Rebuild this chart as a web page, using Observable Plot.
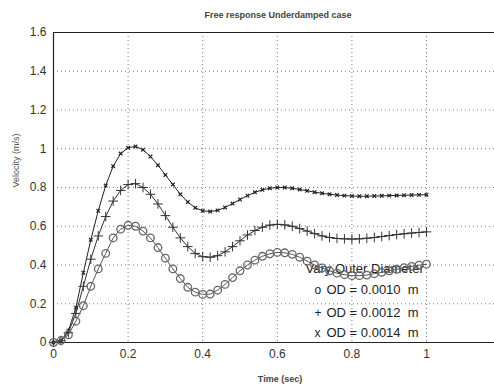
<!DOCTYPE html>
<html>
<head>
<meta charset="utf-8">
<script src="https://cdn.jsdelivr.net/npm/d3@7"></script>
<script src="https://cdn.jsdelivr.net/npm/@observablehq/plot@0.6"></script>
<style>
  body { margin: 0; background: #fff; }
  #wrap { position: relative; width: 494px; height: 387px; overflow: hidden; font-family: "Liberation Sans", Arial, sans-serif; }
  #title { position: absolute; top: 10px; left: 0; width: 556px; text-align: center; font-size: 9px; font-weight: bold; color: #444; }
</style>
</head>
<body>
<div id="wrap"><div id="title">Free response Underdamped case</div></div>
<script>
const time = [0, 0.02, 0.04, 0.06, 0.08, 0.10, 0.12, 0.14, 0.16, 0.18, 0.20, 0.22, 0.24, 0.26, 0.28, 0.30, 0.32, 0.34, 0.36, 0.38, 0.40, 0.42, 0.44, 0.46, 0.48, 0.50, 0.52, 0.54, 0.56, 0.58, 0.60, 0.62, 0.64, 0.66, 0.68, 0.70, 0.72, 0.74, 0.76, 0.78, 0.80, 0.82, 0.84, 0.86, 0.88, 0.90, 0.92, 0.94, 0.96, 0.98, 1.00];
const od10 = [0, 0.01, 0.04, 0.11, 0.19, 0.29, 0.38, 0.46, 0.54, 0.585, 0.605, 0.60, 0.575, 0.54, 0.49, 0.435, 0.38, 0.33, 0.285, 0.26, 0.248, 0.25, 0.27, 0.30, 0.335, 0.37, 0.40, 0.425, 0.445, 0.458, 0.465, 0.463, 0.455, 0.44, 0.42, 0.40, 0.385, 0.37, 0.358, 0.35, 0.345, 0.345, 0.348, 0.355, 0.362, 0.37, 0.378, 0.386, 0.393, 0.399, 0.404];
const od12 = [0, 0.01, 0.05, 0.15, 0.29, 0.43, 0.55, 0.65, 0.73, 0.785, 0.815, 0.82, 0.80, 0.765, 0.715, 0.655, 0.595, 0.54, 0.495, 0.46, 0.443, 0.44, 0.448, 0.468, 0.495, 0.525, 0.555, 0.578, 0.595, 0.606, 0.61, 0.607, 0.60, 0.588, 0.575, 0.562, 0.55, 0.542, 0.537, 0.535, 0.534, 0.535, 0.538, 0.542, 0.547, 0.552, 0.557, 0.561, 0.565, 0.568, 0.571];
const od14 = [0, 0.01, 0.06, 0.18, 0.36, 0.53, 0.68, 0.81, 0.91, 0.975, 1.005, 1.012, 0.995, 0.96, 0.915, 0.865, 0.815, 0.765, 0.725, 0.695, 0.68, 0.676, 0.682, 0.697, 0.717, 0.738, 0.758, 0.775, 0.788, 0.796, 0.80, 0.80, 0.796, 0.79, 0.783, 0.776, 0.77, 0.765, 0.761, 0.758, 0.756, 0.755, 0.755, 0.756, 0.757, 0.758, 0.759, 0.76, 0.761, 0.762, 0.763];
const xTicks = [0, 0.2, 0.4, 0.6, 0.8, 1];
const yTicks = [0, 0.2, 0.4, 0.6, 0.8, 1, 1.2, 1.4, 1.6];
const xLabel = "Time (sec)";
const yLabel = "Velocity (m/s)";
const legendTitle = "Vary Outer Diameter";
const legendSymbols = ["o", "+", "x"];
const legendLabels = ["OD = 0.0010  m", "OD = 0.0012  m", "OD = 0.0014  m"];

const d10 = time.map((t, i) => ({t, v: od10[i]}));
const d12 = time.map((t, i) => ({t, v: od12[i]}));
const d14 = time.map((t, i) => ({t, v: od14[i]}));
const rowDy = [-49, -26, -6];

const legendMarks = legendSymbols.flatMap((s, i) => [
  Plot.text([s], {frameAnchor: "bottom-left", dx: 261, dy: rowDy[i], textAnchor: "start", fontSize: 12, fill: "#222"}),
  Plot.text([legendLabels[i]], {frameAnchor: "bottom-left", dx: 273, dy: rowDy[i], textAnchor: "start", fontSize: 13, fill: "#222", style: "white-space: pre"})
]);

const chart = Plot.plot({
  width: 494,
  height: 387,
  marginLeft: 53,
  marginRight: 0,
  marginTop: 32,
  marginBottom: 45,
  style: {fontFamily: "Liberation Sans, Arial, sans-serif", background: "transparent", overflow: "visible"},
  x: {domain: [0, 1.1823]},
  y: {domain: [0, 1.6]},
  marks: [
    Plot.gridX(xTicks, {stroke: "#444", strokeOpacity: 0.7, strokeDasharray: "1,3"}),
    Plot.gridY(yTicks, {stroke: "#444", strokeOpacity: 0.7, strokeDasharray: "1,3"}),
    Plot.ruleX([0], {stroke: "#222", strokeWidth: 1.2}),
    Plot.ruleY(d3.extent(yTicks), {stroke: "#222", strokeWidth: 1.2}),
    Plot.axisX({ticks: xTicks, tickFormat: d => String(d), tickSize: 0, tickPadding: 7, fontSize: 12, fill: "#333", label: null}),
    Plot.axisY({ticks: yTicks, tickFormat: d => String(d), tickSize: 0, tickPadding: 7, fontSize: 12, fill: "#333", label: null}),
    Plot.text([xLabel], {frameAnchor: "bottom", dx: 6, dy: 39, fontSize: 9, fontWeight: "bold", fill: "#444"}),
    Plot.text([yLabel], {frameAnchor: "left", dx: -37, dy: 0, rotate: -90, fontSize: 9, fill: "#555"}),
    Plot.text([legendTitle], {frameAnchor: "bottom-left", dx: 252, dy: -70, textAnchor: "start", fontSize: 13, fill: "#222"}),
    ...legendMarks,
    Plot.line(d14, {x: "t", y: "v", stroke: "#222", strokeWidth: 1}),
    Plot.dot(d14, {x: "t", y: "v", symbol: "times", r: 1.8, stroke: "#222", strokeWidth: 1.2}),
    Plot.line(d12, {x: "t", y: "v", stroke: "#333", strokeWidth: 1}),
    Plot.dot(d12, {x: "t", y: "v", symbol: "plus", r: 3.2, stroke: "#333", strokeWidth: 1}),
    Plot.line(d10, {x: "t", y: "v", stroke: "#555", strokeWidth: 1}),
    Plot.dot(d10, {x: "t", y: "v", symbol: "circle", r: 3.8, fill: "none", stroke: "#666", strokeWidth: 1.3})
  ]
});
document.getElementById("wrap").appendChild(chart);
</script>
</body>
</html>
